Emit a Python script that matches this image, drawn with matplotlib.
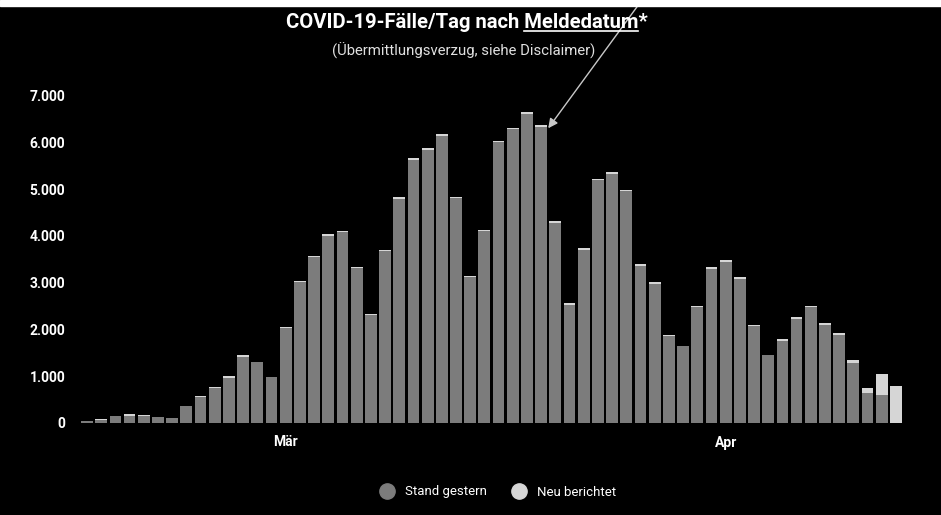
import numpy as np
import matplotlib.pyplot as plt
from matplotlib.lines import Line2D

# Tageswerte ab 16.02.2020 (Index 14 = 1. März, Index 45 = 1. April)
start_datum = "2020-02-16"
gesamt = [50, 85, 150, 185, 175, 125, 100, 365, 585, 770,
          1000, 1445, 1300, 975, 2050, 3040, 3575, 4030, 4110, 3340,
          2335, 3700, 4820, 5655, 5870, 6170, 4835, 3140, 4125, 6030,
          6315, 6650, 6365, 4315, 2560, 3730, 5215, 5355, 4990, 3395,
          3005, 1890, 1640, 2495, 3325, 3480, 3110, 2095, 1445, 1785,
          2255, 2505, 2135, 1925, 1340, 740, 1055, 790]
neu = [0, 30, 0, 30, 20, 0, 0, 0, 20, 30,
       30, 30, 0, 0, 30, 30, 30, 30, 30, 30,
       30, 30, 30, 30, 30, 30, 30, 30, 30, 30,
       30, 40, 40, 30, 30, 30, 30, 30, 30, 30,
       40, 30, 0, 20, 30, 30, 30, 30, 0, 30,
       30, 30, 40, 40, 60, 100, 455, 790]
stand = [g - n for g, n in zip(gesamt, neu)]

monat_pos = [14, 45]
monat_labels = ["Mär", "Apr"]
y_ticks = [0, 1000, 2000, 3000, 4000, 5000, 6000, 7000]

farbe_stand = "#7c7c7c"
farbe_neu = "#d6d6d6"

plt.rcParams['font.family'] = ['Roboto', 'DejaVu Sans']

fig = plt.figure(figsize=(9.41, 5.15), dpi=100)
fig.patch.set_facecolor("black")
ax = fig.add_axes([75 / 941, 92 / 515, 835 / 941, 327.5 / 515])
ax.set_facecolor("black")

x = np.arange(len(gesamt))
ax.bar(x, stand, width=0.83, color=farbe_stand, linewidth=0)
ax.bar(x, neu, bottom=stand, width=0.83, color=farbe_neu, linewidth=0)

ax.set_xlim(-0.846, 57.99)
ax.set_ylim(0, 7000)
ax.set_yticks(y_ticks)
ax.set_yticklabels([f"{v:,}".replace(",", ".") for v in y_ticks],
                   color="white", fontsize=10, fontweight="bold")
ax.set_xticks(monat_pos)
ax.set_xticklabels(monat_labels, color="white", fontsize=10, fontweight="bold")
ax.tick_params(axis="y", length=0, pad=7)
ax.tick_params(axis="x", length=0, pad=9)
for s in ax.spines.values():
    s.set_visible(False)

# Titel mit unterstrichenem "Meldedatum"
titel_a = "COVID-19-Fälle/Tag nach "
titel_b = "Meldedatum"
fs_titel = 14.6
titel = fig.text(466.5 / 941, 1 - 28.5 / 515, titel_a + titel_b + "*", ha="center",
                 va="baseline", color="white", fontsize=fs_titel, fontweight="bold")
fig.text(464 / 941, 1 - 56 / 515, "(Übermittlungsverzug, siehe Disclaimer)", ha="center",
         va="baseline", color="#e0e0e0", fontsize=10.7)

renderer = fig.canvas.get_renderer()
bb = titel.get_window_extent(renderer)
probe = fig.text(0, 0, titel_a + titel_b, fontsize=fs_titel, fontweight="bold")
w_ab = probe.get_window_extent(renderer).width
probe.set_text(titel_b)
w_b = probe.get_window_extent(renderer).width
probe.remove()
x1 = bb.x0 + w_ab
x0 = x1 - w_b
y_ul = (515 - 28.5) - 2.5
fig.add_artist(Line2D([x0 / 941, x1 / 941], [y_ul / 515, y_ul / 515],
                      color="white", lw=1.2, transform=fig.transFigure))

# Pfeil auf den Spitzenwert
ax.annotate("", xy=(32.5, 6300), xycoords="data",
            xytext=(642 / 941, 1.0), textcoords="figure fraction",
            arrowprops=dict(arrowstyle="-|>", color="#c8c8c8", lw=1.0,
                            mutation_scale=14, shrinkA=0, shrinkB=0),
            annotation_clip=False)

# Legende
handles = [Line2D([], [], marker="o", linestyle="", markersize=11,
                  markerfacecolor=farbe_stand, markeredgecolor=farbe_stand),
           Line2D([], [], marker="o", linestyle="", markersize=11,
                  markerfacecolor=farbe_neu, markeredgecolor=farbe_neu)]
leg = fig.legend(handles, ["Stand gestern", "Neu berichtet"], loc="center",
                 bbox_to_anchor=(495 / 941, 1 - 492 / 515), ncol=2, frameon=False,
                 fontsize=9.5, handletextpad=0.3, columnspacing=1.5)
for t in leg.get_texts():
    t.set_color("white")

# heller Papierrand oben
fig.add_artist(plt.Rectangle((0, 1 - 6 / 515), 1, 6 / 515, transform=fig.transFigure,
                             color="white", zorder=5))

fig.savefig("out.png", dpi=100, facecolor=fig.get_facecolor())
